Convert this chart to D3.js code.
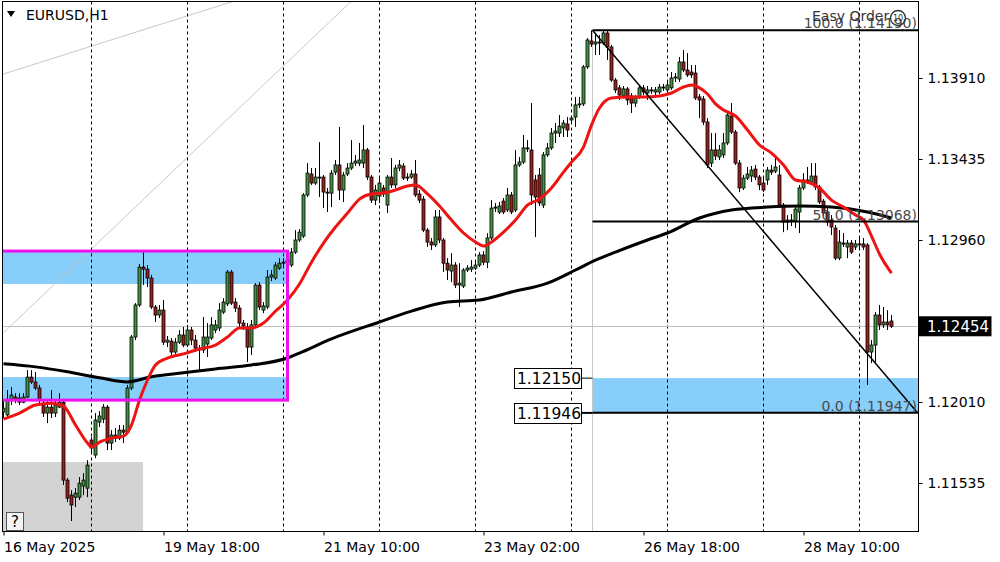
<!DOCTYPE html>
<html>
<head>
<meta charset="utf-8">
<script src="https://cdn.jsdelivr.net/npm/d3@7"></script>
<style>
  body { margin: 0; background: #fff; }
  svg { display: block; }
  text { font-family: "DejaVu Sans", sans-serif; }
</style>
</head>
<body>
<svg id="chart" width="1000" height="562"></svg>
<script>
// EURUSD H1 bars, 16 May 2025 02:00 .. 29 May 2025 08:00 (index 0..222)
const open = [
  1.11951,1.11934,1.12021,1.12039,1.12033,1.12009,1.12039,1.12156,1.12127,1.12092,
  1.11992,1.11945,1.11980,1.11945,1.11980,1.12009,1.11552,1.11464,1.11452,1.11452,
  1.11517,1.11505,1.11787,1.11699,1.11892,1.11910,1.11980,1.11769,1.11816,1.11798,
  1.11845,1.11833,1.12092,1.12391,1.12579,1.12801,1.12789,1.12737,1.12567,1.12520,
  1.12549,1.12361,1.12367,1.12303,1.12361,1.12403,1.12344,1.12432,1.12373,1.12326,
  1.12315,1.12350,1.12385,1.12432,1.12444,1.12537,1.12585,1.12772,1.12596,1.12561,
  1.12473,1.12450,1.12332,1.12462,1.12696,1.12549,1.12567,1.12743,1.12737,1.12795,
  1.12824,1.12830,1.12813,1.12889,1.12960,1.12983,1.13224,1.13347,1.13294,1.13329,
  1.13329,1.13241,1.13235,1.13358,1.13400,1.13253,1.13347,1.13382,1.13411,1.13411,
  1.13411,1.13488,1.13329,1.13194,1.13218,1.13265,1.13165,1.13329,1.13283,1.13382,
  1.13394,1.13323,1.13329,1.13347,1.13230,1.13200,1.13018,1.12948,1.12931,1.13095,
  1.12960,1.12824,1.12778,1.12813,1.12696,1.12690,1.12784,1.12789,1.12795,1.12813,
  1.12872,1.12830,1.12972,1.13147,1.13124,1.13188,1.13136,1.13224,1.13136,1.13400,
  1.13417,1.13494,1.13488,1.13312,1.13341,1.13165,1.13459,1.13500,1.13587,1.13587,
  1.13617,1.13640,1.13664,1.13681,1.13752,1.13758,1.13975,1.14127,1.14109,1.14121,
  1.14115,1.14174,1.14092,1.13898,1.13852,1.13805,1.13846,1.13805,1.13763,1.13799,
  1.13852,1.13822,1.13840,1.13828,1.13828,1.13857,1.13840,1.13852,1.13910,1.13904,
  1.14004,1.13957,1.13945,1.13939,1.13799,1.13787,1.13652,1.13411,1.13488,1.13447,
  1.13459,1.13529,1.13687,1.13593,1.13411,1.13265,1.13323,1.13335,1.13376,1.13329,
  1.13294,1.13312,1.13370,1.13364,1.13341,1.13165,1.13065,1.13077,1.13071,1.13124,
  1.13265,1.13312,1.13300,1.13335,1.13271,1.13188,1.13124,1.13077,1.13030,1.12854,
  1.12942,1.12919,1.12942,1.12919,1.12937,1.12937,1.12931,1.12303,1.12344,1.12520,
  1.12462,1.12479,1.12485
];
const high = [
  1.12021,1.12080,1.12098,1.12062,1.12062,1.12062,1.12197,1.12197,1.12185,1.12110,
  1.12021,1.12021,1.12080,1.12021,1.12062,1.12021,1.11564,1.11493,1.11505,1.11570,
  1.11593,1.11669,1.11804,1.11945,1.11957,1.11998,1.11992,1.11845,1.11857,1.11875,
  1.11875,1.12110,1.12403,1.12590,1.12819,1.12889,1.12813,1.12755,1.12579,1.12579,
  1.12608,1.12397,1.12385,1.12385,1.12432,1.12450,1.12462,1.12450,1.12403,1.12344,
  1.12508,1.12473,1.12508,1.12491,1.12590,1.12619,1.12784,1.12784,1.12619,1.12579,
  1.12491,1.12473,1.12491,1.12707,1.12713,1.12596,1.12784,1.12784,1.12830,1.12854,
  1.12854,1.12872,1.12913,1.13018,1.13024,1.13235,1.13411,1.13382,1.13382,1.13534,
  1.13341,1.13265,1.13370,1.13429,1.13623,1.13358,1.13411,1.13546,1.13459,1.13529,
  1.13634,1.13500,1.13341,1.13283,1.13323,1.13283,1.13341,1.13441,1.13400,1.13429,
  1.13411,1.13352,1.13370,1.13429,1.13253,1.13218,1.13030,1.12972,1.13136,1.13136,
  1.12972,1.12854,1.12883,1.12830,1.12824,1.12795,1.12813,1.12842,1.12830,1.12889,
  1.12895,1.13000,1.13194,1.13177,1.13183,1.13206,1.13265,1.13241,1.13488,1.13447,
  1.13576,1.13546,1.13763,1.13341,1.13382,1.13476,1.13529,1.13617,1.13646,1.13693,
  1.13664,1.13681,1.13687,1.13799,1.13799,1.13986,1.14144,1.14190,1.14174,1.14162,
  1.14185,1.14185,1.14104,1.13910,1.13869,1.13863,1.13857,1.13822,1.13810,1.13863,
  1.13869,1.13863,1.13857,1.13857,1.13875,1.13875,1.13887,1.13945,1.13939,1.14033,
  1.14074,1.14056,1.13986,1.13986,1.13816,1.13805,1.13675,1.13587,1.13587,1.13517,
  1.13587,1.13711,1.13763,1.13605,1.13429,1.13341,1.13388,1.13394,1.13400,1.13341,
  1.13323,1.13388,1.13400,1.13447,1.13400,1.13177,1.13106,1.13112,1.13165,1.13283,
  1.13352,1.13388,1.13411,1.13411,1.13283,1.13200,1.13147,1.13106,1.13048,1.13018,
  1.13001,1.12960,1.12960,1.12960,1.12977,1.12972,1.12942,1.12373,1.12537,1.12579,
  1.12567,1.12549,1.12520
];
const low = [
  1.11916,1.11922,1.11992,1.12003,1.11992,1.12003,1.12033,1.12116,1.12080,1.12003,
  1.11922,1.11886,1.11916,1.11922,1.11974,1.11523,1.11423,1.11312,1.11394,1.11435,
  1.11464,1.11452,1.11716,1.11681,1.11863,1.11886,1.11728,1.11728,1.11775,1.11787,
  1.11769,1.11822,1.12080,1.12373,1.12567,1.12696,1.12684,1.12555,1.12479,1.12502,
  1.12344,1.12332,1.12286,1.12292,1.12350,1.12332,1.12332,1.12344,1.12303,1.12197,
  1.12297,1.12274,1.12373,1.12414,1.12426,1.12526,1.12573,1.12579,1.12537,1.12444,
  1.12432,1.12244,1.12286,1.12450,1.12549,1.12531,1.12555,1.12719,1.12725,1.12784,
  1.12795,1.12813,1.12801,1.12878,1.12948,1.12972,1.13212,1.13283,1.13283,1.13212,
  1.13147,1.13124,1.13153,1.13341,1.13194,1.13183,1.13335,1.13370,1.13394,1.13394,
  1.13382,1.13312,1.13177,1.13165,1.13177,1.13212,1.13118,1.13265,1.13265,1.13364,
  1.13312,1.13306,1.13318,1.13212,1.13177,1.13006,1.12919,1.12901,1.12919,1.12942,
  1.12772,1.12725,1.12713,1.12678,1.12567,1.12678,1.12772,1.12772,1.12784,1.12801,
  1.12813,1.12795,1.12960,1.13124,1.13112,1.13112,1.13124,1.13112,1.13124,1.13388,
  1.13406,1.13476,1.13165,1.12977,1.13159,1.13147,1.13447,1.13488,1.13529,1.13564,
  1.13564,1.13564,1.13652,1.13623,1.13734,1.13746,1.13963,1.14092,1.14045,1.14045,
  1.14104,1.14016,1.13887,1.13822,1.13781,1.13793,1.13752,1.13705,1.13740,1.13787,
  1.13810,1.13781,1.13816,1.13810,1.13816,1.13834,1.13828,1.13840,1.13887,1.13887,
  1.13945,1.13916,1.13910,1.13781,1.13675,1.13634,1.13382,1.13388,1.13429,1.13429,
  1.13441,1.13517,1.13582,1.13400,1.13241,1.13253,1.13312,1.13300,1.13312,1.13253,
  1.13241,1.13283,1.13341,1.13352,1.13153,1.13006,1.13018,1.13042,1.13030,1.13001,
  1.13253,1.13289,1.13289,1.13253,1.13171,1.13101,1.13042,1.12989,1.12842,1.12842,
  1.12919,1.12854,1.12878,1.12901,1.12913,1.12901,1.12110,1.12238,1.12244,1.12432,
  1.12444,1.12432,1.12444
];
const close = [
  1.11974,1.12021,1.12051,1.12021,1.12009,1.12039,1.12156,1.12127,1.12092,1.12021,
  1.11945,1.11980,1.11945,1.11992,1.12009,1.11552,1.11446,1.11406,1.11475,1.11534,
  1.11552,1.11640,1.11740,1.11904,1.11928,1.11980,1.11769,1.11816,1.11798,1.11845,
  1.11833,1.12092,1.12391,1.12579,1.12801,1.12789,1.12737,1.12567,1.12520,1.12549,
  1.12361,1.12373,1.12303,1.12361,1.12403,1.12344,1.12432,1.12373,1.12326,1.12315,
  1.12391,1.12391,1.12462,1.12462,1.12549,1.12596,1.12772,1.12590,1.12561,1.12473,
  1.12456,1.12332,1.12462,1.12696,1.12567,1.12573,1.12743,1.12755,1.12813,1.12824,
  1.12830,1.12842,1.12889,1.12960,1.13006,1.13224,1.13352,1.13294,1.13329,1.13323,
  1.13241,1.13235,1.13352,1.13400,1.13253,1.13341,1.13382,1.13411,1.13423,1.13429,
  1.13488,1.13329,1.13194,1.13253,1.13294,1.13230,1.13329,1.13283,1.13382,1.13400,
  1.13323,1.13329,1.13347,1.13224,1.13194,1.13018,1.12948,1.12931,1.13095,1.12960,
  1.12824,1.12784,1.12813,1.12696,1.12707,1.12784,1.12795,1.12801,1.12813,1.12872,
  1.12830,1.12972,1.13147,1.13153,1.13159,1.13124,1.13224,1.13124,1.13400,1.13417,
  1.13500,1.13500,1.13224,1.13212,1.13177,1.13459,1.13500,1.13587,1.13599,1.13628,
  1.13646,1.13605,1.13675,1.13752,1.13758,1.13975,1.14133,1.14109,1.14121,1.14115,
  1.14174,1.14092,1.13898,1.13840,1.13810,1.13846,1.13781,1.13763,1.13799,1.13852,
  1.13828,1.13840,1.13834,1.13840,1.13857,1.13852,1.13869,1.13910,1.13916,1.14004,
  1.13957,1.13928,1.13928,1.13793,1.13781,1.13652,1.13400,1.13488,1.13453,1.13488,
  1.13529,1.13693,1.13593,1.13411,1.13265,1.13323,1.13347,1.13370,1.13329,1.13283,
  1.13253,1.13370,1.13358,1.13388,1.13165,1.13065,1.13077,1.13071,1.13141,1.13265,
  1.13312,1.13306,1.13335,1.13271,1.13183,1.13118,1.13065,1.13036,1.12854,1.12948,
  1.12937,1.12942,1.12889,1.12937,1.12931,1.12919,1.12303,1.12344,1.12520,1.12462,
  1.12479,1.12462,1.12454
];

// moving averages (bar index -> price)
const redIdx = [0,4,8,12,15,18,21,22,24,27,30,32,34,36,38,41,45,49,53,56,59,62,65,68,71,74,77,80,83,86,
  89,92,95,98,101,103,106,109,112,115,118,120,122,125,128,131,134,137,140,142,145,147,149,152,156,160,164,167,170,172,
  174,176,178,180,183,186,189,192,195,198,201,204,207,210,213,215,217,219,222];
const redVal = [1.11910,1.11945,1.11992,1.12003,1.11986,1.11875,1.11769,1.11746,1.11775,1.11798,
  1.11810,1.11875,1.12021,1.12139,1.12227,1.12268,1.12292,1.12321,1.12344,1.12391,
  1.12444,1.12444,1.12473,1.12543,1.12608,1.12702,1.12830,1.12942,1.13036,1.13118,
  1.13200,1.13230,1.13235,1.13253,1.13277,1.13283,1.13230,1.13159,1.13077,1.13001,
  1.12948,1.12925,1.12948,1.13006,1.13077,1.13165,1.13200,1.13265,1.13358,1.13417,
  1.13505,1.13634,1.13734,1.13793,1.13799,1.13799,1.13805,1.13822,1.13857,1.13869,
  1.13852,1.13816,1.13758,1.13722,1.13687,1.13605,1.13517,1.13470,1.13400,1.13312,
  1.13300,1.13265,1.13194,1.13153,1.13106,1.13077,1.12983,1.12878,1.12766];
const blackIdx = [0,8,16,24,31,37,45,53,62,71,74,82,94,102,111,119,127,136,143,148,153,161,166,174,182,191,199,207,216,222];
const blackVal = [1.12234,1.12216,1.12187,1.12152,1.12128,1.12158,1.12181,1.12204,1.12227,1.12268,
  1.12297,1.12380,1.12479,1.12543,1.12596,1.12608,1.12655,1.12707,1.12784,1.12842,
  1.12889,1.12960,1.13001,1.13089,1.13136,1.13153,1.13159,1.13153,1.13124,1.13089];

// axes (1.12485 sits under the current-price tag, so only its tick mark shows)
const priceTicks = [1.13910, 1.13435, 1.12960, 1.12485, 1.12010, 1.11535];
const hiddenTick = 1.12485;
const timeIdx = [0, 40, 80, 120, 160, 200];
const timeLabels = ['16 May 2025', '19 May 18:00', '21 May 10:00', '23 May 02:00', '26 May 18:00', '28 May 10:00'];
const daySeparators = [22, 46, 70, 94, 118, 142, 166, 190, 214];
const lastPrice = 1.12454;

// chart objects
const fibStart = 147.25;
const fibLevels = [100, 50, 0];
const fibPrices = [1.14190, 1.13068, 1.11947];
const zoneTop = 1.12150, zoneBottom = 1.11946;
const leftBoxEnd = 71;
const leftZones = [[1.12895, 1.12702], [1.12156, 1.12021]];
const grayLines = [[[-0.75, 1.13928], [59.25, 1.14373]], [[0, 1.12416], [87.25, 1.14367]]];
const trendLine = [[147.25, 1.14190], [228.5, 1.11947]];

const svg = d3.select('#chart');
const P = {left: 2.5, top: 1.5, right: 918.5, bottom: 531.5};

const x = d3.scaleLinear().domain([0, 222]).range([3.5, 891.5]);
const y = d3.scaleLinear().domain([1.11535, 1.13910]).range([483, 78]);

svg.append('rect').attr('width', 1000).attr('height', 562).attr('fill', '#fff');

svg.append('defs').append('clipPath').attr('id', 'plotClip')
  .append('rect').attr('x', P.left).attr('y', P.top)
  .attr('width', P.right - P.left).attr('height', P.bottom - P.top);

const g = svg.append('g').attr('clip-path', 'url(#plotClip)');

// --- background objects ---
g.append('rect').attr('x', 3).attr('y', 462).attr('width', 140).attr('height', 70).attr('fill', '#d3d3d3');

leftZones.forEach(z => {
  g.append('rect')
    .attr('x', P.left).attr('y', y(z[0]))
    .attr('width', x(leftBoxEnd) - P.left).attr('height', y(z[1]) - y(z[0]))
    .attr('fill', '#87cefa');
});

g.append('rect')
  .attr('x', x(fibStart)).attr('y', y(zoneTop))
  .attr('width', P.right - x(fibStart)).attr('height', y(fibPrices[2]) - y(zoneTop))
  .attr('fill', '#87cefa');

grayLines.forEach(l => {
  g.append('line')
    .attr('x1', x(l[0][0])).attr('y1', y(l[0][1]))
    .attr('x2', x(l[1][0])).attr('y2', y(l[1][1]))
    .attr('stroke', '#c8c8c8').attr('stroke-width', 1);
});

g.selectAll('.sep').data(daySeparators).join('line')
  .attr('class', 'sep')
  .attr('x1', d => x(d)).attr('x2', d => x(d))
  .attr('y1', P.top).attr('y2', P.bottom)
  .attr('stroke', '#000').attr('stroke-width', 1).attr('stroke-dasharray', '3,3');

g.append('line')
  .attr('x1', P.left).attr('x2', P.right)
  .attr('y1', Math.round(y(lastPrice)) + 0.5).attr('y2', Math.round(y(lastPrice)) + 0.5)
  .attr('stroke', '#c0c0c0');

g.append('line')
  .attr('x1', x(fibStart)).attr('x2', x(fibStart))
  .attr('y1', y(fibPrices[0])).attr('y2', P.bottom)
  .attr('stroke', '#c8c8c8');

// --- candles ---
const bars = open.map((o, i) => ({i, o, h: high[i], l: low[i], c: close[i]}));

g.selectAll('.wick').data(bars).join('line')
  .attr('class', 'wick')
  .attr('x1', d => x(d.i)).attr('x2', d => x(d.i))
  .attr('y1', d => y(d.h)).attr('y2', d => y(d.l))
  .attr('stroke', '#000').attr('stroke-width', 1);

g.selectAll('.body').data(bars).join('rect')
  .attr('class', 'body')
  .attr('x', d => x(d.i) - 1.5)
  .attr('width', 3)
  .attr('y', d => y(Math.max(d.o, d.c)))
  .attr('height', d => Math.max(1, Math.abs(y(d.o) - y(d.c))))
  .attr('fill', d => d.c >= d.o ? '#429242' : '#9c1e1e')
  .attr('stroke', '#000').attr('stroke-width', 0.8);

// --- moving averages ---
const maLine = d3.line().x(d => x(d[0])).y(d => y(d[1])).curve(d3.curveMonotoneX);
g.append('path').datum(blackIdx.map((d, k) => [d, blackVal[k]]))
  .attr('d', maLine).attr('fill', 'none').attr('stroke', '#000').attr('stroke-width', 3);
g.append('path').datum(redIdx.map((d, k) => [d, redVal[k]]))
  .attr('d', maLine).attr('fill', 'none').attr('stroke', '#ee1414').attr('stroke-width', 3);

// --- magenta frame (left side runs off the chart edge) ---
g.append('rect')
  .attr('x', x(-2)).attr('y', y(leftZones[0][0]))
  .attr('width', x(leftBoxEnd) - x(-2)).attr('height', y(leftZones[1][1]) - y(leftZones[0][0]))
  .attr('fill', 'none').attr('stroke', '#ee11ee').attr('stroke-width', 3);

// --- fibo + trend line ---
fibPrices.forEach(p => {
  g.append('line')
    .attr('x1', x(fibStart)).attr('x2', P.right)
    .attr('y1', y(p)).attr('y2', y(p))
    .attr('stroke', '#000').attr('stroke-width', 2);
});
g.append('line')
  .attr('x1', x(trendLine[0][0])).attr('y1', y(trendLine[0][1]))
  .attr('x2', x(trendLine[1][0])).attr('y2', y(trendLine[1][1]))
  .attr('stroke', '#000').attr('stroke-width', 1.5);

fibLevels.forEach((lv, k) => {
  g.append('text')
    .attr('x', 917).attr('y', y(fibPrices[k]) - 2)
    .attr('text-anchor', 'end').attr('font-size', 14).attr('fill', '#4a4a4a')
    .text(`${lv.toFixed(1)} (${fibPrices[k].toFixed(5)})`);
});

// zone price labels
[zoneTop, zoneBottom].forEach(p => {
  const yy = y(p);
  svg.append('line').attr('x1', 582).attr('x2', x(fibStart)).attr('y1', yy).attr('y2', yy)
    .attr('stroke', '#000').attr('stroke-width', p === zoneBottom ? 2 : 1);
  svg.append('rect').attr('x', 514.5).attr('y', Math.round(yy) - 9.5).attr('width', 67).attr('height', 20)
    .attr('fill', '#fff').attr('stroke', '#000');
  svg.append('text').attr('x', 517).attr('y', yy + 6).attr('font-size', 15.5).attr('fill', '#000')
    .text(p.toFixed(5));
});

// --- frame ---
svg.append('rect')
  .attr('x', P.left).attr('y', P.top)
  .attr('width', P.right - P.left).attr('height', P.bottom - P.top)
  .attr('fill', 'none').attr('stroke', '#000');

// --- axes ---
const yAxis = svg.append('g').attr('transform', `translate(${P.right},0)`)
  .call(d3.axisRight(y).tickValues(priceTicks)
    .tickFormat(d => d === hiddenTick ? '' : d3.format('.5f')(d)).tickSize(4).tickPadding(5));
const xAxis = svg.append('g').attr('transform', `translate(0,${P.bottom})`)
  .call(d3.axisBottom(x).tickValues(timeIdx).tickFormat((d, k) => timeLabels[k]).tickSize(4).tickPadding(6.5));
[yAxis, xAxis].forEach(a => {
  a.select('.domain').remove();
  a.selectAll('line').attr('stroke', '#000');
  a.selectAll('text').attr('font-size', 14).attr('fill', '#000').attr('font-family', '"DejaVu Sans", sans-serif');
});
xAxis.selectAll('text').attr('text-anchor', 'start');

// current price label
const yp = y(lastPrice);
svg.append('rect').attr('x', P.right).attr('y', yp - 10).attr('width', 73).attr('height', 20).attr('fill', '#000');
svg.append('text').attr('x', 927).attr('y', yp + 5.5).attr('font-size', 15).attr('fill', '#fff').text(lastPrice.toFixed(5));

// --- title & widgets ---
svg.append('path').attr('d', 'M7,11 L15,11 L11,17 Z').attr('fill', '#000');
svg.append('text').attr('x', 26).attr('y', 20).attr('font-size', 14).attr('fill', '#000').text('EURUSD,H1');

// Easy Order panel caption sits on top of the 100.0 level label, as in MT4
svg.append('text').attr('x', 812).attr('y', 21).attr('font-size', 14).attr('fill', '#333').text('Easy Order');
svg.append('circle').attr('cx', 898).attr('cy', 18).attr('r', 7.5).attr('fill', 'none').attr('stroke', '#333').attr('stroke-width', 1.3);
svg.append('text').attr('x', 898).attr('y', 21).attr('font-size', 8).attr('text-anchor', 'middle').attr('fill', '#333').text('10');

svg.append('rect').attr('x', 6.5).attr('y', 512.5).attr('width', 17).attr('height', 18)
  .attr('fill', '#f4f4f4').attr('stroke', '#555');
svg.append('text').attr('x', 15).attr('y', 527).attr('font-size', 15).attr('text-anchor', 'middle').attr('fill', '#000').text('?');
</script>
</body>
</html>
